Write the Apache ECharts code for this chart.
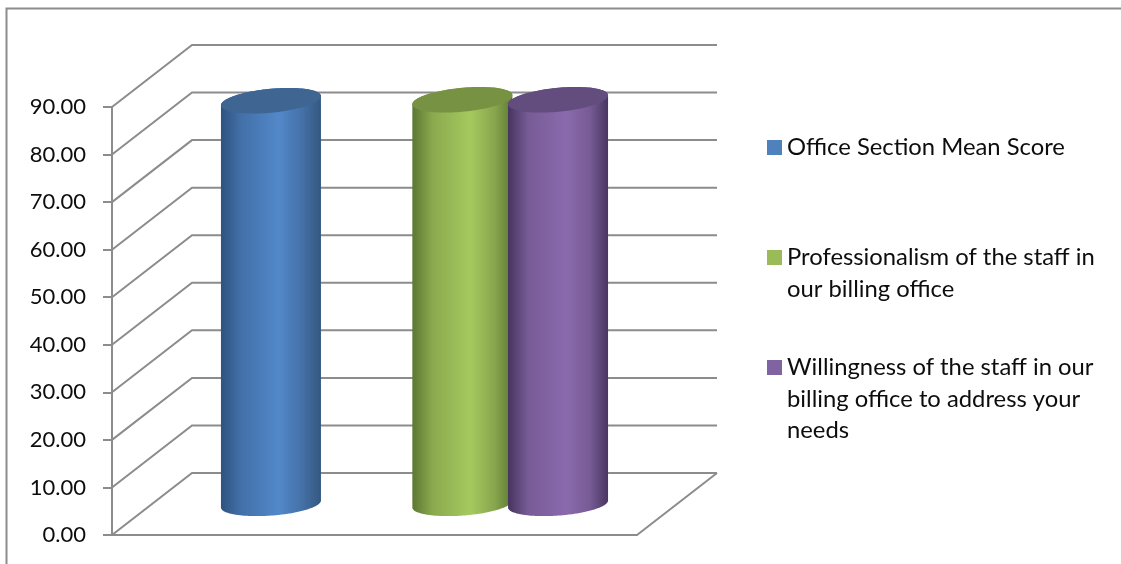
<!DOCTYPE html>
<html>
<head>
<meta charset="utf-8">
<style>html,body{margin:0;padding:0;background:#fff}#chart{width:1121px;height:564px}</style>
<script src="https://cdn.jsdelivr.net/npm/echarts@6/dist/echarts.min.js"></script>
</head>
<body>
<div id="chart"></div>
<script>
// Mean scores for the billing office section
const seriesNames = [
  'Office Section Mean Score',
  'Professionalism of the staff in\nour billing office',
  'Willingness of the staff in our\nbilling office to address your\nneeds'
];
const seriesSlots = [1, 3, 4];
const seriesValues = [84.8, 85.0, 85.0];
const yTicks = [0, 10, 20, 30, 40, 50, 60, 70, 80, 90];

const seriesColors = [
  { edgeL: '#2f5380', near: '#4270a8', mid: '#5288ca', nearR: '#4470a6', edgeR: '#34587f', cap: '#3f6592', key: '#4f81bd' },
  { edgeL: '#5c7733', near: '#8aa94e', mid: '#a6c95f', nearR: '#88a64d', edgeR: '#5f7a35', cap: '#789244', key: '#9bbb59' },
  { edgeL: '#46345f', near: '#775b96', mid: '#8a6aac', nearR: '#775b95', edgeR: '#483661', cap: '#634d7e', key: '#8064a2' }
];
const gridColor = '#8c8c8c';
const textColor = '#0d0d0d';
const fontFamily = 'Lato';
const axisFontSize = 22;
const legendFontSize = 23.8;

// Oblique projection of the chart box: the back wall sits this far from the front plane
const depthX = 80;
const depthY = -62;
const slotMin = -0.243;
const slotMax = 5.243;
const strokeWidth = 2;

function wallRender(params, api) {
  const v = api.value(0);
  const a = api.coord([slotMin, v]);
  const b = api.coord([slotMax, v]);
  return {
    type: 'polyline',
    shape: { points: [a, [a[0] + depthX, a[1] + depthY], [b[0] + depthX, b[1] + depthY]] },
    style: { stroke: gridColor, lineWidth: strokeWidth, fill: null }
  };
}

function floorRender(params, api) {
  const b = api.coord([slotMax, 0]);
  return {
    type: 'line',
    shape: { x1: b[0], y1: b[1], x2: b[0] + depthX, y2: b[1] + depthY },
    style: { stroke: gridColor, lineWidth: strokeWidth }
  };
}

// Ellipse outline seen from above, tilted by the projection
function ellipsePoint(cx, cy, a, h, s, t) {
  const c = Math.cos(t);
  return [cx + a * c, cy + h * Math.sin(t) - s * c];
}
function arc(cx, cy, a, h, s, from, to) {
  const pts = [];
  for (let i = 0; i <= 120; i++) {
    pts.push(ellipsePoint(cx, cy, a, h, s, from + (to - from) * i / 120));
  }
  return pts;
}

function cylinderRender(colors) {
  return function (params, api) {
    const top = api.coord([api.value(0), api.value(1)]);
    const base = api.coord([api.value(0), 0]);
    const a = api.size([1, 0])[0] * 0.5225;
    const cx = top[0] + depthX / 2;
    const topY = top[1] + depthY / 2;
    const baseY = base[1] + depthY / 2;
    const body = arc(cx, baseY, a, 11.6, 3.5, 0, Math.PI)
      .concat(arc(cx, topY, a, 12, 4.5, Math.PI, 2 * Math.PI));
    return {
      type: 'group',
      children: [
        {
          type: 'polygon',
          shape: { points: body },
          style: {
            fill: {
              type: 'linear', x: 0, y: 0, x2: 1, y2: 0,
              colorStops: [
                { offset: 0, color: colors.edgeL },
                { offset: 0.2, color: colors.near },
                { offset: 0.58, color: colors.mid },
                { offset: 0.82, color: colors.nearR },
                { offset: 1, color: colors.edgeR }
              ]
            }
          }
        },
        {
          type: 'polygon',
          shape: { points: arc(cx, topY, a, 12, 4.5, 0, 2 * Math.PI) },
          style: { fill: colors.cap }
        }
      ]
    };
  };
}

const wallSeries = {
  type: 'custom',
  silent: true,
  z: 1,
  encode: { y: 0 },
  data: yTicks.map(v => [v]),
  renderItem: wallRender
};
const floorSeries = {
  type: 'custom',
  silent: true,
  z: 1,
  data: [[0]],
  renderItem: floorRender
};
const cylinderSeries = seriesNames.map((name, i) => ({
  name: name,
  type: 'custom',
  z: 2 + i,
  itemStyle: { color: seriesColors[i].key },
  encode: { x: 0, y: 1 },
  data: [[seriesSlots[i], seriesValues[i]]],
  renderItem: cylinderRender(seriesColors[i])
}));

// One legend block per entry; leading blank lines keep the swatch level with the first text line
const legendLine = 31.5;
const legendCentres = [147.5, 257.5, 367.5];
const legends = seriesNames.map((name, i) => {
  const lines = name.split('\n').length;
  const blockH = (2 * lines - 1) * legendLine;
  return {
    data: [name],
    left: 767,
    top: legendCentres[i] - blockH / 2,
    padding: 0,
    orient: 'vertical',
    selectedMode: false,
    itemWidth: 15,
    itemHeight: 15,
    icon: 'rect',
    formatter: n => '\n'.repeat(lines - 1) + n,
    textStyle: {
      fontFamily: fontFamily,
      fontSize: legendFontSize,
      color: textColor,
      lineHeight: legendLine
    }
  };
});

const chart = echarts.init(document.getElementById('chart'), null, { renderer: 'canvas' });
chart.setOption({
  animation: false,
  backgroundColor: '#fff',
  graphic: [{
    type: 'rect',
    silent: true,
    shape: { x: 6.5, y: 8.5, width: 1200, height: 600 },
    style: { fill: null, stroke: gridColor, lineWidth: strokeWidth }
  }],
  grid: { left: 112, top: 107, width: 525, height: 428 },
  xAxis: {
    type: 'value',
    min: slotMin,
    max: slotMax,
    axisLine: { show: true, onZero: false, lineStyle: { color: gridColor, width: strokeWidth } },
    axisTick: { show: false },
    axisLabel: { show: false },
    splitLine: { show: false }
  },
  yAxis: {
    type: 'value',
    min: 0,
    max: 90,
    interval: 10,
    axisLine: { show: true, onZero: false, lineStyle: { color: gridColor, width: strokeWidth } },
    axisTick: { show: true, length: 9, lineStyle: { color: gridColor, width: strokeWidth } },
    axisLabel: {
      margin: 26,
      fontFamily: fontFamily,
      fontSize: axisFontSize,
      color: textColor,
      formatter: v => v.toFixed(2)
    },
    splitLine: { show: false }
  },
  legend: legends,
  series: [wallSeries, floorSeries].concat(cylinderSeries)
});
</script>
</body>
</html>
